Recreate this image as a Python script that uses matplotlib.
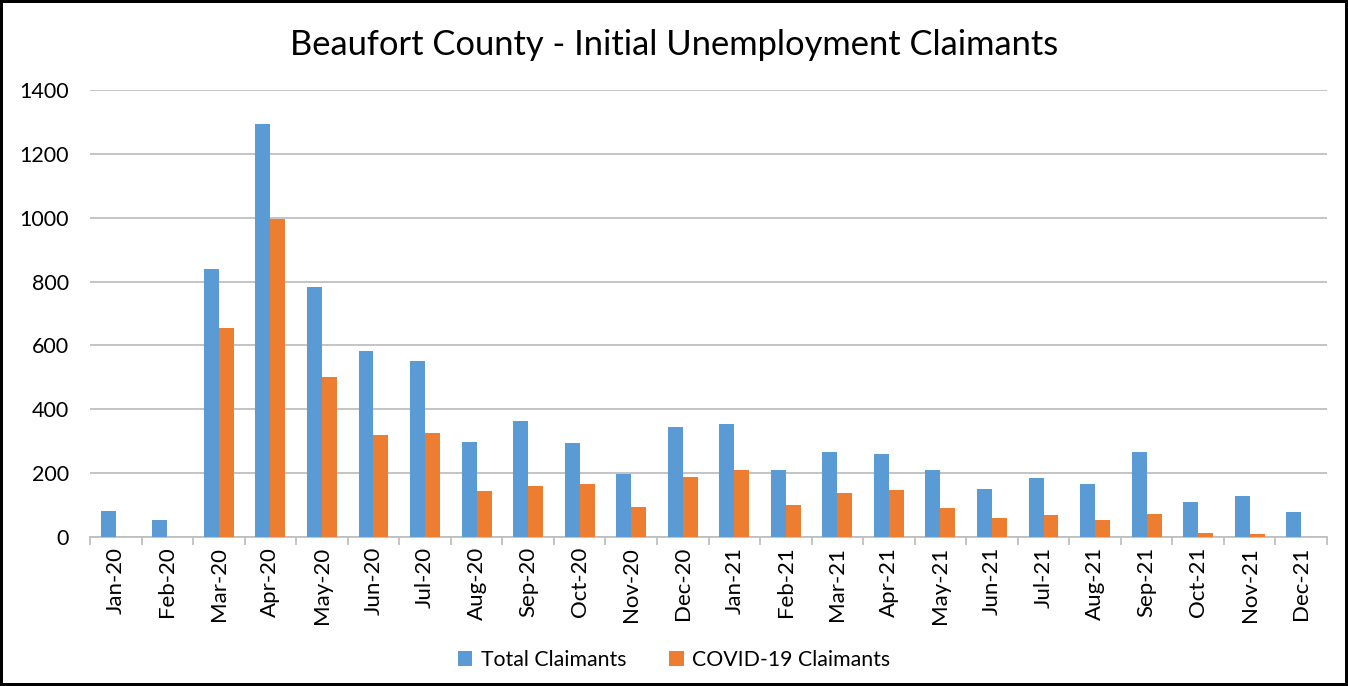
import matplotlib
matplotlib.use("Agg")
import matplotlib.pyplot as plt
import numpy as np

months = ["Jan-20", "Feb-20", "Mar-20", "Apr-20", "May-20", "Jun-20",
          "Jul-20", "Aug-20", "Sep-20", "Oct-20", "Nov-20", "Dec-20",
          "Jan-21", "Feb-21", "Mar-21", "Apr-21", "May-21", "Jun-21",
          "Jul-21", "Aug-21", "Sep-21", "Oct-21", "Nov-21", "Dec-21"]
total_claimants = [81, 53, 840, 1293, 782, 582, 552, 298, 362, 295, 198, 343,
                   355, 210, 265, 261, 210, 150, 186, 167, 267, 109, 128, 78]
covid_claimants = [0, 0, 655, 995, 502, 318, 326, 145, 159, 167, 93, 188,
                   210, 100, 137, 147, 90, 58, 68, 53, 72, 13, 8, 0]

plt.rcParams["font.family"] = ["Lato", "DejaVu Sans"]

fig = plt.figure(figsize=(13.48, 6.86), dpi=100)
fig.patch.set_edgecolor("black")
fig.patch.set_linewidth(3)
ax = fig.add_axes([90 / 1348, 1 - 537 / 686, (1327 - 90) / 1348, (537 - 90) / 686])

x = np.arange(len(months))
w = 0.29
ax.bar(x - w / 2, total_claimants, w, color="#5B9BD5", label="Total Claimants", zorder=3)
ax.bar(x + w / 2, covid_claimants, w, color="#ED7D31", label="COVID-19 Claimants", zorder=3)

ax.set_xlim(-0.5, len(months) - 0.5)
ax.set_ylim(0, 1400)
ax.set_yticks(range(0, 1401, 200))
ax.yaxis.grid(True, color="#BFBFBF", linewidth=1.3, zorder=0)
ax.tick_params(axis="y", length=0, labelsize=15.5, pad=15)

ax.set_xticks(x)
ax.set_xticklabels(months, rotation=90, fontsize=16)
ax.set_xticks(np.arange(-0.5, len(months), 1), minor=True)
ax.tick_params(axis="x", which="major", length=0, pad=7)
ax.tick_params(axis="x", which="minor", length=6, color="#BFBFBF", width=1.3)

for s in ["top", "right", "left"]:
    ax.spines[s].set_visible(False)
ax.spines["bottom"].set_color("#BFBFBF")
ax.spines["bottom"].set_linewidth(1.3)

fig.text(0.5, 1 - 45 / 686, "Beaufort County - Initial Unemployment Claimants",
         ha="center", va="center", fontsize=24.8)

fig.legend(loc="center", bbox_to_anchor=(0.5, 1 - 660 / 686), ncol=2, frameon=False,
           fontsize=15.3, handlelength=0.7, handleheight=0.7, columnspacing=2.0,
           handletextpad=0.4)

fig.savefig("out.png", dpi=100)
